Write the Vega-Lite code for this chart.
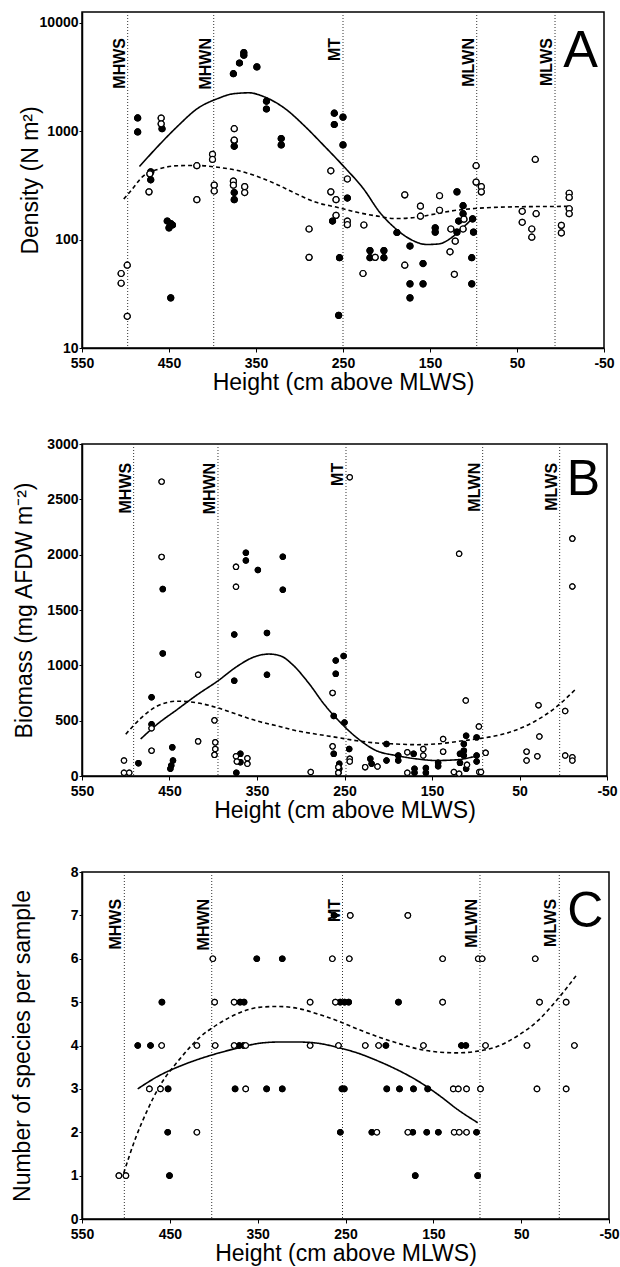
{
"$schema":"https://vega.github.io/schema/vega-lite/v6.json",
"background":"white",
"padding":{"left":10,"top":10,"right":2,"bottom":2},
"bounds":"flush",
"spacing":96,
"config":{"view":{"stroke":"black","strokeWidth":1.5},
"axis":{"grid":false,"domainColor":"black","domainWidth":1.5,"tickColor":"black","labelColor":"black","titleColor":"black","labelFont":"Liberation Sans","titleFont":"Liberation Sans","labelFontSize":14,"labelFontWeight":"bold","titleFontSize":23,"titleFontWeight":"normal","tickSize":3,"labelPadding":1},
"axisX":{"tickSize":4,"labelPadding":4,"titlePadding":1},
"text":{"font":"Liberation Sans","color":"black"}},
"datasets":{
"levA":[{"n":"MHWS","h":497.5},{"n":"MHWN","h":398.6},{"n":"MT","h":250},{"n":"MLWN","h":96.3},{"n":"MLWS","h":6.3}],
"levB":[{"n":"MHWS","h":491},{"n":"MHWN","h":394.6},{"n":"MT","h":248.3},{"n":"MLWN","h":92.1},{"n":"MLWS","h":4.1}],
"levC":[{"n":"MHWS","h":501.8},{"n":"MHWN","h":402.3},{"n":"MT","h":253.4},{"n":"MLWN","h":96.9},{"n":"MLWS","h":6.6}],
"ptsA":[
{"h":486,"v":1320,"t":"f"},{"h":486,"v":980,"t":"f"},{"h":471,"v":420,"t":"f"},{"h":471,"v":355,"t":"f"},{"h":458,"v":1050,"t":"f"},{"h":452,"v":148,"t":"f"},{"h":450,"v":128,"t":"f"},{"h":448,"v":140,"t":"f"},{"h":446,"v":136,"t":"f"},{"h":448,"v":29,"t":"f"},
{"h":376,"v":3375,"t":"f"},{"h":369,"v":4236,"t":"f"},{"h":364,"v":5275,"t":"f"},{"h":364,"v":5000,"t":"f"},{"h":349,"v":3900,"t":"f"},{"h":375,"v":813,"t":"f"},{"h":375,"v":723,"t":"f"},{"h":375,"v":271,"t":"f"},{"h":375,"v":233,"t":"f"},{"h":338,"v":1883,"t":"f"},{"h":338,"v":1596,"t":"f"},{"h":321,"v":853,"t":"f"},{"h":321,"v":745,"t":"f"},
{"h":260,"v":1459,"t":"f"},{"h":260,"v":1148,"t":"f"},{"h":250,"v":1343,"t":"f"},{"h":250,"v":745,"t":"f"},{"h":262,"v":148,"t":"f"},{"h":254,"v":68,"t":"f"},{"h":255,"v":20,"t":"f"},{"h":245,"v":241,"t":"f"},{"h":219,"v":79,"t":"f"},{"h":219,"v":68,"t":"f"},{"h":203,"v":79,"t":"f"},{"h":203,"v":68,"t":"f"},{"h":188,"v":116,"t":"f"},{"h":173,"v":87,"t":"f"},{"h":173,"v":39,"t":"f"},{"h":173,"v":29,"t":"f"},{"h":158,"v":60,"t":"f"},{"h":158,"v":39,"t":"f"},{"h":144,"v":128,"t":"f"},{"h":144,"v":117,"t":"f"},{"h":119,"v":275,"t":"f"},{"h":112,"v":205,"t":"f"},{"h":112,"v":173,"t":"f"},{"h":117,"v":148,"t":"f"},{"h":119,"v":117,"t":"f"},{"h":101,"v":155,"t":"f"},{"h":100,"v":117,"t":"f"},{"h":102,"v":68,"t":"f"},{"h":102,"v":39,"t":"f"},
{"h":505,"v":48.6,"t":"o"},{"h":505,"v":39.5,"t":"o"},{"h":498,"v":58,"t":"o"},{"h":498,"v":19.6,"t":"o"},{"h":472,"v":403,"t":"o"},{"h":473,"v":275,"t":"o"},{"h":459,"v":1316,"t":"o"},{"h":459,"v":1164,"t":"o"},{"h":418,"v":479,"t":"o"},{"h":418,"v":233,"t":"o"},{"h":400,"v":610,"t":"o"},{"h":400,"v":547,"t":"o"},{"h":398,"v":317,"t":"o"},{"h":398,"v":280,"t":"o"},{"h":375,"v":1050,"t":"o"},{"h":375,"v":825,"t":"o"},{"h":376,"v":345,"t":"o"},{"h":376,"v":317,"t":"o"},{"h":363,"v":307,"t":"o"},{"h":363,"v":271,"t":"o"},
{"h":289,"v":125,"t":"o"},{"h":289,"v":68.5,"t":"o"},{"h":264,"v":430,"t":"o"},{"h":264,"v":275,"t":"o"},{"h":258,"v":233,"t":"o"},{"h":258,"v":167,"t":"o"},{"h":245,"v":361,"t":"o"},{"h":245,"v":148,"t":"o"},{"h":245,"v":137,"t":"o"},{"h":226,"v":136,"t":"o"},{"h":227,"v":48.6,"t":"o"},{"h":213,"v":68.5,"t":"o"},{"h":179,"v":258,"t":"o"},{"h":179,"v":58,"t":"o"},{"h":161,"v":203,"t":"o"},{"h":161,"v":164,"t":"o"},{"h":139,"v":253,"t":"o"},{"h":139,"v":186,"t":"o"},{"h":126,"v":125,"t":"o"},{"h":127,"v":77,"t":"o"},{"h":121,"v":96.6,"t":"o"},{"h":122,"v":47.8,"t":"o"},{"h":111,"v":154,"t":"o"},{"h":112,"v":125,"t":"o"},{"h":97,"v":479,"t":"o"},{"h":97,"v":338,"t":"o"},{"h":91,"v":307,"t":"o"},{"h":91,"v":275,"t":"o"},{"h":44,"v":182,"t":"o"},{"h":44,"v":144,"t":"o"},{"h":33,"v":125,"t":"o"},{"h":33,"v":105,"t":"o"},{"h":29,"v":547,"t":"o"},{"h":28,"v":173,"t":"o"},{"h":-1,"v":135,"t":"o"},{"h":-1,"v":115,"t":"o"},{"h":-10,"v":267,"t":"o"},{"h":-10,"v":244,"t":"o"},{"h":-10,"v":192,"t":"o"},{"h":-10,"v":173,"t":"o"}],
"curA":[
{"h":484,"v":470,"s":"solid"},{"h":462,"v":734,"s":"solid"},{"h":440,"v":1109,"s":"solid"},{"h":417,"v":1618,"s":"solid"},{"h":394,"v":1990,"s":"solid"},{"h":376,"v":2205,"s":"solid"},{"h":358,"v":2250,"s":"solid"},{"h":340,"v":2057,"s":"solid"},{"h":317,"v":1618,"s":"solid"},{"h":294,"v":1109,"s":"solid"},{"h":272,"v":734,"s":"solid"},{"h":249,"v":470,"s":"solid"},{"h":226,"v":290,"s":"solid"},{"h":208,"v":179,"s":"solid"},{"h":190,"v":127,"s":"solid"},{"h":172,"v":100,"s":"solid"},{"h":154,"v":90,"s":"solid"},{"h":140,"v":91,"s":"solid"},{"h":126,"v":103,"s":"solid"},{"h":113,"v":127,"s":"solid"},{"h":103,"v":151,"s":"solid"},
{"h":502,"v":236,"s":"dashed"},{"h":494,"v":280,"s":"dashed"},{"h":480,"v":382,"s":"dashed"},{"h":462,"v":445,"s":"dashed"},{"h":440,"v":479,"s":"dashed"},{"h":417,"v":481,"s":"dashed"},{"h":394,"v":463,"s":"dashed"},{"h":371,"v":432,"s":"dashed"},{"h":349,"v":382,"s":"dashed"},{"h":326,"v":322,"s":"dashed"},{"h":303,"v":262,"s":"dashed"},{"h":281,"v":220,"s":"dashed"},{"h":258,"v":199,"s":"dashed"},{"h":235,"v":179,"s":"dashed"},{"h":212,"v":165,"s":"dashed"},{"h":190,"v":156,"s":"dashed"},{"h":167,"v":160,"s":"dashed"},{"h":144,"v":172,"s":"dashed"},{"h":122,"v":185,"s":"dashed"},{"h":99,"v":193,"s":"dashed"},{"h":54,"v":200,"s":"dashed"},{"h":-10,"v":202,"s":"dashed"}],
"ptsB":[
{"h":485.5,"v":116,"t":"f"},{"h":470.5,"v":712,"t":"f"},{"h":470.5,"v":468,"t":"f"},{"h":457.7,"v":1689,"t":"f"},{"h":457.7,"v":1108,"t":"f"},{"h":446.8,"v":259,"t":"f"},{"h":446,"v":140,"t":"f"},{"h":448,"v":95,"t":"f"},{"h":449,"v":65,"t":"f"},{"h":376,"v":1278,"t":"f"},{"h":376,"v":861,"t":"f"},{"h":373.6,"v":30,"t":"f"},{"h":369,"v":200,"t":"f"},{"h":369,"v":125,"t":"f"},{"h":362.7,"v":2017,"t":"f"},{"h":362.7,"v":1948,"t":"f"},{"h":349,"v":1862,"t":"f"},{"h":338.6,"v":1293,"t":"f"},{"h":338.6,"v":915,"t":"f"},{"h":320.5,"v":1981,"t":"f"},{"h":320.5,"v":1683,"t":"f"},
{"h":262.3,"v":200,"t":"f"},{"h":262.3,"v":542,"t":"f"},{"h":260,"v":1043,"t":"f"},{"h":260,"v":923,"t":"f"},{"h":251,"v":1084,"t":"f"},{"h":250,"v":483,"t":"f"},{"h":256,"v":110,"t":"f"},{"h":256,"v":65,"t":"f"},{"h":257,"v":30,"t":"f"},{"h":244.6,"v":244,"t":"f"},{"h":220.5,"v":155,"t":"f"},{"h":219,"v":110,"t":"f"},{"h":202,"v":289,"t":"f"},{"h":202,"v":140,"t":"f"},{"h":188.6,"v":185,"t":"f"},{"h":188.6,"v":140,"t":"f"},{"h":171,"v":200,"t":"f"},{"h":170,"v":65,"t":"f"},{"h":170,"v":30,"t":"f"},{"h":157,"v":72,"t":"f"},{"h":157,"v":30,"t":"f"},{"h":143,"v":119,"t":"f"},{"h":143,"v":89,"t":"f"},{"h":118,"v":200,"t":"f"},{"h":118,"v":119,"t":"f"},{"h":113.6,"v":289,"t":"f"},{"h":113.6,"v":229,"t":"f"},{"h":113.6,"v":185,"t":"f"},{"h":111,"v":65,"t":"f"},{"h":99,"v":349,"t":"f"},{"h":99,"v":185,"t":"f"},{"h":99,"v":131,"t":"f"},{"h":111,"v":363,"t":"f"},
{"h":502,"v":140,"t":"o"},{"h":502,"v":30,"t":"o"},{"h":496,"v":30,"t":"o"},{"h":470.5,"v":432,"t":"o"},{"h":470.5,"v":229,"t":"o"},{"h":459,"v":2660,"t":"o"},{"h":459,"v":1980,"t":"o"},{"h":417.3,"v":915,"t":"o"},{"h":417.3,"v":313,"t":"o"},{"h":398.6,"v":503,"t":"o"},{"h":397.7,"v":304,"t":"o"},{"h":397.7,"v":244,"t":"o"},{"h":398.6,"v":191,"t":"o"},{"h":374,"v":1890,"t":"o"},{"h":374,"v":1710,"t":"o"},{"h":374,"v":179,"t":"o"},{"h":373,"v":131,"t":"o"},{"h":361,"v":161,"t":"o"},{"h":361,"v":110,"t":"o"},{"h":288.6,"v":36,"t":"o"},{"h":263.6,"v":751,"t":"o"},{"h":263.6,"v":268,"t":"o"},{"h":257,"v":80,"t":"o"},{"h":257,"v":30,"t":"o"},{"h":244,"v":2700,"t":"o"},{"h":244,"v":155,"t":"o"},{"h":244,"v":131,"t":"o"},{"h":226.4,"v":80,"t":"o"},{"h":212.3,"v":86,"t":"o"},{"h":178.2,"v":214,"t":"o"},{"h":178.2,"v":30,"t":"o"},{"h":160,"v":244,"t":"o"},{"h":160,"v":185,"t":"o"},{"h":137.3,"v":334,"t":"o"},{"h":137.3,"v":220,"t":"o"},{"h":125,"v":36,"t":"o"},{"h":119,"v":2008,"t":"o"},{"h":119,"v":21,"t":"o"},{"h":111.4,"v":682,"t":"o"},{"h":110,"v":101,"t":"o"},{"h":96.4,"v":447,"t":"o"},{"h":96,"v":36,"t":"o"},{"h":94,"v":36,"t":"o"},{"h":88.7,"v":209,"t":"o"},{"h":41.9,"v":220,"t":"o"},{"h":41.9,"v":140,"t":"o"},{"h":29.6,"v":179,"t":"o"},{"h":28.3,"v":640,"t":"o"},{"h":27.3,"v":357,"t":"o"},{"h":-2.2,"v":587,"t":"o"},{"h":-2.2,"v":185,"t":"o"},{"h":-10.4,"v":2145,"t":"o"},{"h":-10.4,"v":1713,"t":"o"},{"h":-10.4,"v":170,"t":"o"},{"h":-10.4,"v":140,"t":"o"}],
"curB":[
{"h":483,"v":334,"s":"solid"},{"h":464,"v":468,"s":"solid"},{"h":441,"v":602,"s":"solid"},{"h":418,"v":736,"s":"solid"},{"h":395.5,"v":855,"s":"solid"},{"h":373,"v":989,"s":"solid"},{"h":354.5,"v":1072,"s":"solid"},{"h":336.4,"v":1102,"s":"solid"},{"h":322.7,"v":1084,"s":"solid"},{"h":309,"v":1004,"s":"solid"},{"h":291,"v":840,"s":"solid"},{"h":273,"v":646,"s":"solid"},{"h":254.6,"v":483,"s":"solid"},{"h":236.4,"v":349,"s":"solid"},{"h":213.6,"v":229,"s":"solid"},{"h":191,"v":185,"s":"solid"},{"h":168,"v":155,"s":"solid"},{"h":145.5,"v":140,"s":"solid"},{"h":122.7,"v":146,"s":"solid"},{"h":100,"v":179,"s":"solid"},
{"h":500,"v":378,"s":"dashed"},{"h":482,"v":527,"s":"dashed"},{"h":464,"v":632,"s":"dashed"},{"h":441,"v":676,"s":"dashed"},{"h":418,"v":661,"s":"dashed"},{"h":395.5,"v":617,"s":"dashed"},{"h":373,"v":557,"s":"dashed"},{"h":350,"v":497,"s":"dashed"},{"h":327,"v":453,"s":"dashed"},{"h":304.5,"v":408,"s":"dashed"},{"h":282,"v":378,"s":"dashed"},{"h":259,"v":349,"s":"dashed"},{"h":236,"v":319,"s":"dashed"},{"h":213.6,"v":298,"s":"dashed"},{"h":191,"v":289,"s":"dashed"},{"h":168,"v":283,"s":"dashed"},{"h":145.5,"v":289,"s":"dashed"},{"h":122.7,"v":310,"s":"dashed"},{"h":100,"v":334,"s":"dashed"},{"h":77,"v":363,"s":"dashed"},{"h":54.5,"v":414,"s":"dashed"},{"h":31.8,"v":497,"s":"dashed"},{"h":9,"v":617,"s":"dashed"},{"h":-13.6,"v":780,"s":"dashed"}],
"ptsC":[
{"h":263,"v":7,"t":"f"},{"h":351,"v":6,"t":"f"},{"h":322,"v":6,"t":"f"},
{"h":459,"v":5,"t":"f"},{"h":370,"v":5,"t":"f"},{"h":365.5,"v":5,"t":"f"},{"h":256,"v":5,"t":"f"},{"h":251,"v":5,"t":"f"},{"h":246.4,"v":5,"t":"f"},{"h":189.7,"v":5,"t":"f"},
{"h":486.5,"v":4,"t":"f"},{"h":472,"v":4,"t":"f"},{"h":371,"v":4,"t":"f"},{"h":366.3,"v":4,"t":"f"},{"h":204,"v":4,"t":"f"},{"h":118,"v":4,"t":"f"},{"h":113,"v":4,"t":"f"},
{"h":452,"v":3,"t":"f"},{"h":375.7,"v":3,"t":"f"},{"h":339.8,"v":3,"t":"f"},{"h":322,"v":3,"t":"f"},{"h":254,"v":3,"t":"f"},{"h":251.4,"v":3,"t":"f"},{"h":203,"v":3,"t":"f"},{"h":188.5,"v":3,"t":"f"},{"h":172.6,"v":3,"t":"f"},{"h":156.4,"v":3,"t":"f"},
{"h":452.4,"v":2,"t":"f"},{"h":255.9,"v":2,"t":"f"},{"h":220,"v":2,"t":"f"},{"h":173.4,"v":2,"t":"f"},{"h":157.5,"v":2,"t":"f"},{"h":144.3,"v":2,"t":"f"},{"h":100.8,"v":2,"t":"f"},
{"h":450.4,"v":1,"t":"f"},{"h":170.6,"v":1,"t":"f"},{"h":99.5,"v":1,"t":"f"},
{"h":244.6,"v":7,"t":"o"},{"h":179,"v":7,"t":"o"},
{"h":401,"v":6,"t":"o"},{"h":265,"v":6,"t":"o"},{"h":245.7,"v":6,"t":"o"},{"h":139.4,"v":6,"t":"o"},{"h":98.9,"v":6,"t":"o"},{"h":94.4,"v":6,"t":"o"},{"h":34,"v":6,"t":"o"},
{"h":399,"v":5,"t":"o"},{"h":376.8,"v":5,"t":"o"},{"h":290.3,"v":5,"t":"o"},{"h":261.5,"v":5,"t":"o"},{"h":139.4,"v":5,"t":"o"},{"h":29.1,"v":5,"t":"o"},{"h":-1.2,"v":5,"t":"o"},
{"h":459.3,"v":4,"t":"o"},{"h":419.2,"v":4,"t":"o"},{"h":398.4,"v":4,"t":"o"},{"h":376.8,"v":4,"t":"o"},{"h":363.6,"v":4,"t":"o"},{"h":290.3,"v":4,"t":"o"},{"h":258,"v":4,"t":"o"},{"h":227.5,"v":4,"t":"o"},{"h":212.3,"v":4,"t":"o"},{"h":161.3,"v":4,"t":"o"},{"h":90.6,"v":4,"t":"o"},{"h":43.4,"v":4,"t":"o"},{"h":-10.6,"v":4,"t":"o"},
{"h":473.3,"v":3,"t":"o"},{"h":460.7,"v":3,"t":"o"},{"h":363.6,"v":3,"t":"o"},{"h":127.3,"v":3,"t":"o"},{"h":121.6,"v":3,"t":"o"},{"h":112.2,"v":3,"t":"o"},{"h":96.3,"v":3,"t":"o"},{"h":32,"v":3,"t":"o"},{"h":-1.2,"v":3,"t":"o"},
{"h":419.2,"v":2,"t":"o"},{"h":214.3,"v":2,"t":"o"},{"h":179,"v":2,"t":"o"},{"h":126.3,"v":2,"t":"o"},{"h":120.5,"v":2,"t":"o"},{"h":112.2,"v":2,"t":"o"},
{"h":508,"v":1,"t":"o"},{"h":500,"v":1,"t":"o"}],
"curC":[
{"h":486.6,"v":3.0,"s":"solid"},{"h":461.7,"v":3.31,"s":"solid"},{"h":439,"v":3.52,"s":"solid"},{"h":416.4,"v":3.69,"s":"solid"},{"h":393.8,"v":3.83,"s":"solid"},{"h":371.1,"v":3.95,"s":"solid"},{"h":348.5,"v":4.05,"s":"solid"},{"h":325.9,"v":4.08,"s":"solid"},{"h":303.2,"v":4.08,"s":"solid"},{"h":280.6,"v":4.05,"s":"solid"},{"h":258,"v":3.95,"s":"solid"},{"h":235.3,"v":3.82,"s":"solid"},{"h":212.7,"v":3.64,"s":"solid"},{"h":190,"v":3.43,"s":"solid"},{"h":167.4,"v":3.18,"s":"solid"},{"h":144.7,"v":2.87,"s":"solid"},{"h":122.1,"v":2.52,"s":"solid"},{"h":99.5,"v":2.22,"s":"solid"},
{"h":502.5,"v":1.06,"s":"dashed"},{"h":488.9,"v":1.87,"s":"dashed"},{"h":475.3,"v":2.52,"s":"dashed"},{"h":461.7,"v":3.06,"s":"dashed"},{"h":439,"v":3.68,"s":"dashed"},{"h":416.4,"v":4.18,"s":"dashed"},{"h":393.8,"v":4.51,"s":"dashed"},{"h":371.1,"v":4.75,"s":"dashed"},{"h":348.5,"v":4.88,"s":"dashed"},{"h":325.9,"v":4.9,"s":"dashed"},{"h":303.2,"v":4.85,"s":"dashed"},{"h":280.6,"v":4.72,"s":"dashed"},{"h":258,"v":4.56,"s":"dashed"},{"h":235.3,"v":4.37,"s":"dashed"},{"h":212.7,"v":4.2,"s":"dashed"},{"h":190,"v":4.05,"s":"dashed"},{"h":167.4,"v":3.92,"s":"dashed"},{"h":144.7,"v":3.85,"s":"dashed"},{"h":122.1,"v":3.83,"s":"dashed"},{"h":99.5,"v":3.87,"s":"dashed"},{"h":76.8,"v":3.98,"s":"dashed"},{"h":54.2,"v":4.22,"s":"dashed"},{"h":31.6,"v":4.56,"s":"dashed"},{"h":8.9,"v":5.06,"s":"dashed"},{"h":-13.7,"v":5.64,"s":"dashed"}]
},
"vconcat":[
{"width":522,"height":336,
"layer":[
{"data":{"name":"ptsA"},"mark":{"type":"point","shape":"circle","filled":true,"stroke":"black","strokeWidth":1.2,"size":36,"opacity":1},
"encoding":{"x":{"field":"h","type":"quantitative","scale":{"domain":[550,-50],"nice":false,"zero":false},"axis":{"values":[550,450,350,250,150,50,-50],"labelExpr":"'' + datum.value","title":"Height (cm above MLWS)","labelFlush":false}},
"y":{"field":"v","type":"quantitative","scale":{"type":"log","domain":[10,12500],"nice":false},"axis":{"values":[10,100,1000,10000],"format":"d","title":"Density (N m²)","titleX":-40}},
"fill":{"field":"t","type":"nominal","scale":{"domain":["f","o"],"range":["black","white"]},"legend":null}}},
{"data":{"name":"levA"},"mark":{"type":"rule","color":"#333","strokeWidth":1,"strokeDash":[1,2]},"encoding":{"x":{"field":"h","type":"quantitative"}}},
{"data":{"name":"levA"},"mark":{"type":"text","angle":270,"align":"right","baseline":"alphabetic","dy":-3,"fontWeight":"bold","fontSize":16},"encoding":{"x":{"field":"h","type":"quantitative"},"y":{"datum":7200},"text":{"field":"n"}}},
{"data":{"name":"curA"},"mark":{"type":"line","color":"black","strokeWidth":1.6,"interpolate":"monotone"},"encoding":{"x":{"field":"h","type":"quantitative"},"y":{"field":"v","type":"quantitative"},"order":{"field":"h","sort":"descending"},"strokeDash":{"field":"s","type":"nominal","scale":{"domain":["solid","dashed"],"range":[[1,0],[4,3]]},"legend":null}}},
{"data":{"name":"ptsA"},"mark":{"type":"point","shape":"circle","filled":true,"stroke":"black","strokeWidth":1.2,"size":36,"opacity":1},"encoding":{"x":{"field":"h","type":"quantitative"},"y":{"field":"v","type":"quantitative"},"fill":{"field":"t","type":"nominal","legend":null}}},
{"data":{"values":[{"l":"A"}]},"mark":{"type":"text","fontSize":52,"align":"center","baseline":"alphabetic"},"encoding":{"x":{"datum":-23},"y":{"datum":3890},"text":{"field":"l"}}}
]},
{"width":525,"height":332,
"layer":[
{"data":{"name":"ptsB"},"mark":{"type":"point","shape":"circle","filled":true,"stroke":"black","strokeWidth":1.2,"size":28,"opacity":1},
"encoding":{"x":{"field":"h","type":"quantitative","scale":{"domain":[550,-50],"nice":false,"zero":false},"axis":{"values":[550,450,350,250,150,50,-50],"labelExpr":"'' + datum.value","title":"Height (cm above MLWS)","labelFlush":false}},
"y":{"field":"v","type":"quantitative","scale":{"domain":[0,3000],"nice":false},"axis":{"values":[0,500,1000,1500,2000,2500,3000],"format":"d","title":"Biomass (mg AFDW m⁻²)","titleX":-46}},
"fill":{"field":"t","type":"nominal","scale":{"domain":["f","o"],"range":["black","white"]},"legend":null}}},
{"data":{"name":"levB"},"mark":{"type":"rule","color":"#333","strokeWidth":1,"strokeDash":[1,2]},"encoding":{"x":{"field":"h","type":"quantitative"}}},
{"data":{"name":"levB"},"mark":{"type":"text","angle":270,"align":"right","baseline":"alphabetic","dy":-3,"fontWeight":"bold","fontSize":16},"encoding":{"x":{"field":"h","type":"quantitative"},"y":{"datum":2830},"text":{"field":"n"}}},
{"data":{"name":"curB"},"mark":{"type":"line","color":"black","strokeWidth":1.6,"interpolate":"monotone"},"encoding":{"x":{"field":"h","type":"quantitative"},"y":{"field":"v","type":"quantitative"},"order":{"field":"h","sort":"descending"},"strokeDash":{"field":"s","type":"nominal","scale":{"domain":["solid","dashed"],"range":[[1,0],[4,3]]},"legend":null}}},
{"data":{"name":"ptsB"},"mark":{"type":"point","shape":"circle","filled":true,"stroke":"black","strokeWidth":1.2,"size":28,"opacity":1},"encoding":{"x":{"field":"h","type":"quantitative"},"y":{"field":"v","type":"quantitative"},"fill":{"field":"t","type":"nominal","legend":null}}},
{"data":{"values":[{"l":"B"}]},"mark":{"type":"text","fontSize":50,"align":"center","baseline":"alphabetic"},"encoding":{"x":{"datum":-23},"y":{"datum":2542},"text":{"field":"l"}}}
]},
{"width":527,"height":347,
"layer":[
{"data":{"name":"ptsC"},"mark":{"type":"point","shape":"circle","filled":true,"stroke":"black","strokeWidth":1.2,"size":30,"opacity":1},
"encoding":{"x":{"field":"h","type":"quantitative","scale":{"domain":[550,-50],"nice":false,"zero":false},"axis":{"values":[550,450,350,250,150,50,-50],"labelExpr":"'' + datum.value","title":"Height (cm above MLWS)","labelFlush":false}},
"y":{"field":"v","type":"quantitative","scale":{"domain":[0,8],"nice":false},"axis":{"values":[0,1,2,3,4,5,6,7,8],"format":"d","title":"Number of species per sample","titleX":-48}},
"fill":{"field":"t","type":"nominal","scale":{"domain":["f","o"],"range":["black","white"]},"legend":null}}},
{"data":{"name":"levC"},"mark":{"type":"rule","color":"#333","strokeWidth":1,"strokeDash":[1,2]},"encoding":{"x":{"field":"h","type":"quantitative"}}},
{"data":{"name":"levC"},"mark":{"type":"text","angle":270,"align":"right","baseline":"alphabetic","dy":-3,"fontWeight":"bold","fontSize":16},"encoding":{"x":{"field":"h","type":"quantitative"},"y":{"datum":7.38},"text":{"field":"n"}}},
{"data":{"name":"curC"},"mark":{"type":"line","color":"black","strokeWidth":1.6,"interpolate":"monotone"},"encoding":{"x":{"field":"h","type":"quantitative"},"y":{"field":"v","type":"quantitative"},"order":{"field":"h","sort":"descending"},"strokeDash":{"field":"s","type":"nominal","scale":{"domain":["solid","dashed"],"range":[[1,0],[4,3]]},"legend":null}}},
{"data":{"name":"ptsC"},"mark":{"type":"point","shape":"circle","filled":true,"stroke":"black","strokeWidth":1.2,"size":30,"opacity":1},"encoding":{"x":{"field":"h","type":"quantitative"},"y":{"field":"v","type":"quantitative"},"fill":{"field":"t","type":"nominal","legend":null}}},
{"data":{"values":[{"l":"C"}]},"mark":{"type":"text","fontSize":50,"align":"center","baseline":"alphabetic"},"encoding":{"x":{"datum":-23},"y":{"datum":6.73},"text":{"field":"l"}}}
]}
]
}
